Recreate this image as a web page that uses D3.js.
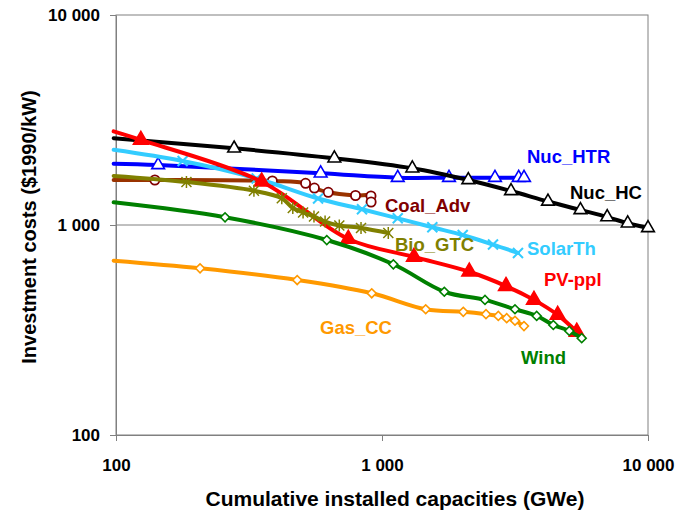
<!DOCTYPE html>
<html>
<head>
<meta charset="utf-8">
<script src="https://cdn.jsdelivr.net/npm/d3@7"></script>
<style>
  body { margin: 0; background: #fff; }
  svg text { font-family: "Liberation Sans", Arial, sans-serif; font-weight: bold; }
</style>
</head>
<body>
<div id="chart"></div>
<script>
// cumulative capacity (GWe) and investment cost ($1990/kW); first point of each
// series is where the curve enters the plot, it carries no marker
var gasX = [98, 207, 480, 915, 1460, 2021, 2460, 2737, 2943, 3162, 3418];
var gasY = [676, 622, 547, 473, 397, 386, 376, 369, 360, 350, 330];

var coalX = [98, 140, 387, 516, 557, 628, 795, 909, 910];
var coalY = [1640, 1638, 1620, 1580, 1500, 1431, 1382, 1375, 1287];

var htrX = [98, 144, 588, 1146, 1786, 2659, 3265, 3419];
var htrY = [1960, 1931, 1763, 1680, 1680, 1680, 1680, 1680];

var hcX = [98, 278, 662, 1300, 2111, 3055, 4207, 5573, 7025, 8389, 10000];
var hcY = [2590, 2318, 2078, 1862, 1638, 1452, 1294, 1179, 1091, 1019, 968];

var solarX = [98, 178, 338, 575, 841, 1146, 1546, 2011, 2614, 3245];
var solarY = [2280, 2017, 1665, 1337, 1188, 1076, 975, 896, 807, 736];

var pvX = [98, 124, 353, 747, 1319, 2129, 2925, 3727, 4576, 5395];
var pvY = [2790, 2541, 1608, 858, 705, 599, 512, 440, 373, 310];

var bioX = [98, 184, 330, 420, 462, 505, 555, 611, 691, 834, 1056];
var bioY = [1712, 1602, 1456, 1340, 1205, 1147, 1098, 1039, 995, 968, 916];

var windX = [98, 257, 620, 1103, 1715, 2439, 3162, 3815, 4406, 5060, 5634];
var windY = [1282, 1088, 848, 650, 481, 440, 397, 369, 334, 313, 289];

var seriesNames = ["Gas_CC", "Coal_Adv", "Nuc_HTR", "Nuc_HC", "SolarTh", "PV-ppl", "Bio_GTC", "Wind"];
var xTicks = [100, 1000, 10000];
var yTicks = [100, 1000, 10000];

var W = 675, H = 519;
var m = { left: 116, right: 648, top: 15, bottom: 435 };

var svg = d3.select("#chart").append("svg")
    .attr("width", W).attr("height", H);

var x = d3.scaleLog().domain([100, 10000]).range([m.left, m.right]);
var y = d3.scaleLog().domain([100, 10000]).range([m.bottom, m.top]);

function fmt(d) { return d3.format(",")(d).replace(/,/g, " "); }

// plot frame + grid line at 1 000
svg.append("rect")
    .attr("x", m.left).attr("y", m.top)
    .attr("width", m.right - m.left).attr("height", m.bottom - m.top)
    .attr("fill", "none").attr("stroke", "#808080").attr("stroke-width", 1);
svg.append("line")
    .attr("x1", m.left).attr("x2", m.right)
    .attr("y1", y(1000)).attr("y2", y(1000))
    .attr("stroke", "#808080").attr("stroke-width", 1);

var gx = svg.append("g").attr("transform", "translate(0," + m.bottom + ")")
    .call(d3.axisBottom(x).tickValues(xTicks).tickFormat(fmt).tickSize(6).tickSizeOuter(0).tickPadding(18));
var gy = svg.append("g").attr("transform", "translate(" + m.left + ",0)")
    .call(d3.axisLeft(y).tickValues(yTicks).tickFormat(fmt).tickSize(6).tickSizeOuter(0).tickPadding(10));
[gx, gy].forEach(function(g) {
    g.select(".domain").attr("stroke", "#808080");
    g.selectAll(".tick line").attr("stroke", "#808080");
    g.selectAll(".tick text").attr("fill", "#000").style("font-size", "17px")
        .style("font-family", "Liberation Sans, Arial, sans-serif").style("font-weight", "bold");
});

svg.append("text")
    .attr("x", 395).attr("y", 506)
    .attr("text-anchor", "middle").style("font-size", "21px")
    .text("Cumulative installed capacities (GWe)");
svg.append("text")
    .attr("transform", "translate(36,227) rotate(-90)")
    .attr("text-anchor", "middle").style("font-size", "20px")
    .text("Investment costs ($1990/kW)");

// marker painters
function triangle(g, pts, color, filled, size) {
    g.selectAll(null).data(pts).enter().append("path")
        .attr("d", d3.symbol().type(d3.symbolTriangle).size(size))
        .attr("transform", function(d) { return "translate(" + d[0] + "," + d[1] + ")"; })
        .attr("fill", filled ? color : "#fff")
        .attr("stroke", color).attr("stroke-width", 1.6);
}
function circle(g, pts, color) {
    g.selectAll(null).data(pts).enter().append("circle")
        .attr("cx", function(d) { return d[0]; }).attr("cy", function(d) { return d[1]; })
        .attr("r", 4.6).attr("fill", "#fff").attr("stroke", color).attr("stroke-width", 1.8);
}
function diamond(g, pts, color) {
    g.selectAll(null).data(pts).enter().append("path")
        .attr("d", d3.symbol().type(d3.symbolSquare).size(40))
        .attr("transform", function(d) { return "translate(" + d[0] + "," + d[1] + ") rotate(45)"; })
        .attr("fill", "#fff").attr("stroke", color).attr("stroke-width", 1.6);
}
function cross(g, pts, color) {
    g.selectAll(null).data(pts).enter().append("path")
        .attr("d", function(d) {
            var s = 5;
            return "M" + (d[0] - s) + "," + (d[1] - s) + "L" + (d[0] + s) + "," + (d[1] + s) +
                   "M" + (d[0] - s) + "," + (d[1] + s) + "L" + (d[0] + s) + "," + (d[1] - s);
        })
        .attr("fill", "none").attr("stroke", color).attr("stroke-width", 2);
}
function star(g, pts, color) {
    g.selectAll(null).data(pts).enter().append("path")
        .attr("d", function(d) {
            var s = 5;
            return "M" + (d[0] - s) + "," + (d[1] - s) + "L" + (d[0] + s) + "," + (d[1] + s) +
                   "M" + (d[0] - s) + "," + (d[1] + s) + "L" + (d[0] + s) + "," + (d[1] - s) +
                   "M" + d[0] + "," + (d[1] - 6) + "L" + d[0] + "," + (d[1] + 6);
        })
        .attr("fill", "none").attr("stroke", color).attr("stroke-width", 1.5);
}

var series = [
    { name: seriesNames[0], xs: gasX, ys: gasY, line: "#ff9900", mark: "#ff9900", draw: diamond },
    { name: seriesNames[1], xs: coalX, ys: coalY, line: "#993300", mark: "#800000", draw: circle },
    { name: seriesNames[2], xs: htrX, ys: htrY, line: "#0000ff", mark: "#0000ff", draw: function(g, p, c) { triangle(g, p, c, false, 70); } },
    { name: seriesNames[3], xs: hcX, ys: hcY, line: "#000000", mark: "#000000", draw: function(g, p, c) { triangle(g, p, c, false, 70); } },
    { name: seriesNames[4], xs: solarX, ys: solarY, line: "#33ccff", mark: "#33ccff", draw: cross },
    { name: seriesNames[5], xs: pvX, ys: pvY, line: "#ff0000", mark: "#ff0000", draw: function(g, p, c) { triangle(g, p, c, true, 95); } },
    { name: seriesNames[6], xs: bioX, ys: bioY, line: "#808000", mark: "#808000", draw: star },
    { name: seriesNames[7], xs: windX, ys: windY, line: "#008000", mark: "#008000", draw: diamond }
];

var line = d3.line().curve(d3.curveCatmullRom.alpha(0.5));

series.forEach(function(s) {
    var pts = s.xs.map(function(v, i) { return [x(v), y(s.ys[i])]; });
    var g = svg.append("g");
    g.append("path").attr("d", line(pts))
        .attr("fill", "none").attr("stroke", s.line).attr("stroke-width", 4)
        .attr("stroke-linejoin", "round").attr("stroke-linecap", "round");
    s.draw(g, pts.slice(1), s.mark);
});

// direct labels
var labels = [
    { t: "Nuc_HTR", x: 527, y: 163, c: "#0000ff" },
    { t: "Nuc_HC", x: 570, y: 199, c: "#000000" },
    { t: "Coal_Adv", x: 385, y: 212, c: "#800000" },
    { t: "Bio_GTC", x: 395, y: 251, c: "#808000" },
    { t: "SolarTh", x: 527, y: 255, c: "#33ccff" },
    { t: "PV-ppl", x: 544, y: 286, c: "#ff0000" },
    { t: "Wind", x: 521, y: 364, c: "#008000" },
    { t: "Gas_CC", x: 320, y: 334, c: "#ff9900" }
];
svg.selectAll(null).data(labels).enter().append("text")
    .attr("x", function(d) { return d.x; }).attr("y", function(d) { return d.y; })
    .attr("fill", function(d) { return d.c; })
    .style("font-size", "18.5px")
    .text(function(d) { return d.t; });
</script>
</body>
</html>
